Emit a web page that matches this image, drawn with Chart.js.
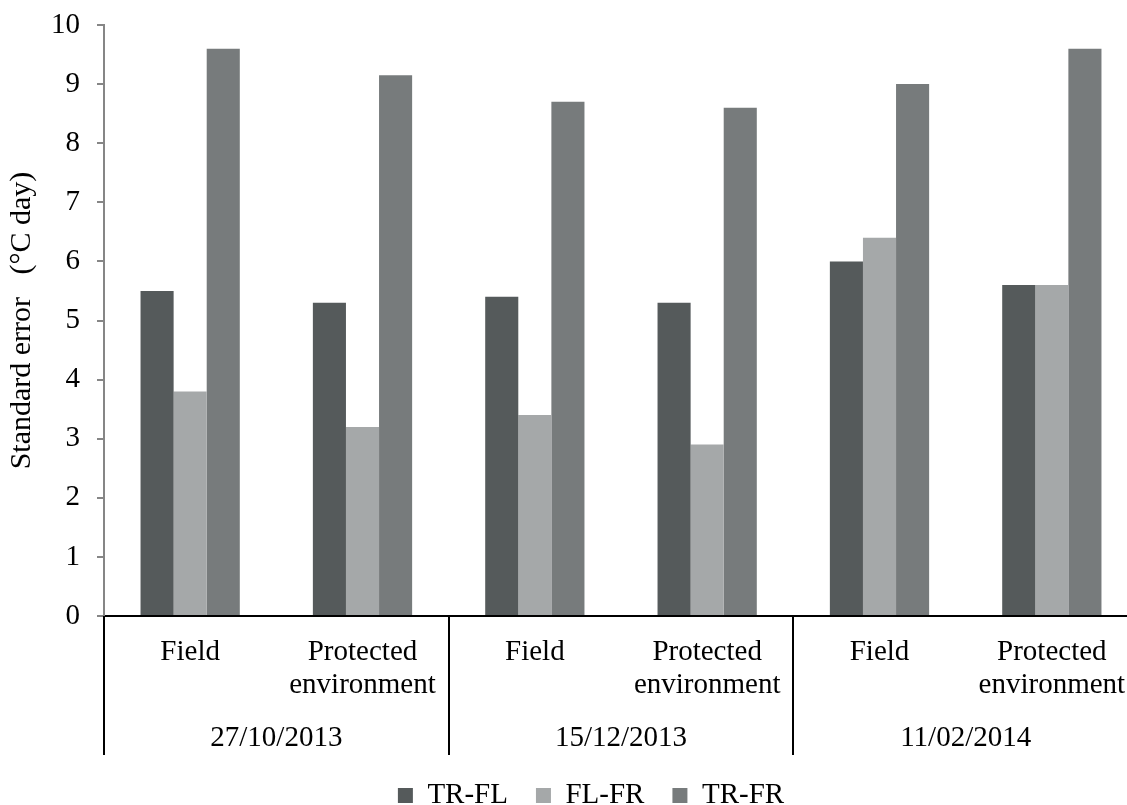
<!DOCTYPE html>
<html>
<head>
<meta charset="utf-8">
<script src="https://cdn.jsdelivr.net/npm/chart.js@4.4.1/dist/chart.umd.min.js"></script>
<style>
  html, body { margin:0; padding:0; background:#fff; overflow:hidden; }
  #wrap { position:absolute; left:0; top:0; width:1138px; height:816px; }
</style>
</head>
<body>
<div id="wrap"><canvas id="chart" width="1138" height="816"></canvas></div>
<script>
// data
var subLabels = [['Field'], ['Protected', 'environment'], ['Field'], ['Protected', 'environment'], ['Field'], ['Protected', 'environment']];
var dates = ['27/10/2013', '15/12/2013', '11/02/2014'];
var trFl = [5.5, 5.3, 5.4, 5.3, 6.0, 5.6];
var flFr = [3.8, 3.2, 3.4, 2.9, 6.4, 5.6];
var trFr = [9.6, 9.15, 8.7, 8.6, 9.0, 9.6];
var yTicks = { min: 0, max: 10, step: 1 };

var serif = 'Liberation Serif, Times New Roman, serif';

// vertical separators between the date groups, below the x axis
var separators = {
  id: 'separators',
  afterLayout: function(chart) {
    // legend sits a little right of centre and low in the original
    chart.legend.left += 22;
    chart.legend.right += 22;
    chart.legend.top += 4;
    chart.legend.bottom += 4;
  },
  afterDraw: function(chart) {
    var x = chart.scales.x, x2 = chart.scales.x2, ca = chart.chartArea, ctx = chart.ctx;
    var step = (x.getPixelForValue(1) - x.getPixelForValue(0));
    ctx.save();
    ctx.strokeStyle = '#000';
    ctx.lineWidth = 2;
    for (var i = 0; i < dates.length; i++) {
      var px = Math.round(x.getPixelForValue(i * 2) - step / 2);
      ctx.beginPath();
      ctx.moveTo(px, ca.bottom);
      ctx.lineTo(px, x2.top + 34);
      ctx.stroke();
    }
    ctx.restore();
  }
};

var ctx = document.getElementById('chart').getContext('2d');
var myChart = new Chart(ctx, {
  type: 'bar',
  data: {
    labels: subLabels,
    datasets: [
      { label: 'TR-FL', data: trFl, backgroundColor: '#555a5b', borderWidth: 0 },
      { label: 'FL-FR', data: flFr, backgroundColor: '#a5a8a9', borderWidth: 0 },
      { label: 'TR-FR', data: trFr, backgroundColor: '#777b7c', borderWidth: 0 }
    ]
  },
  options: {
    responsive: false,
    animation: false,
    layout: { padding: { top: 25, left: 0, right: 0, bottom: 0 } },
    datasets: { bar: { categoryPercentage: 0.576, barPercentage: 1.0 } },
    plugins: {
      legend: {
        position: 'bottom',
        labels: {
          color: '#000',
          font: { family: serif, size: 29 },
          boxWidth: 15,
          boxHeight: 15,
          padding: 28
        }
      },
      tooltip: { enabled: false }
    },
    scales: {
      x: {
        position: 'bottom',
        grid: { display: true, drawOnChartArea: false, drawTicks: false, color: 'rgba(0,0,0,0)' },
        border: { display: true, color: '#000', width: 2 },
        ticks: { color: '#000', font: { family: serif, size: 29, lineHeight: 1.14 }, padding: 20, maxRotation: 0, autoSkip: false },
        afterFit: function(s) { s.height = 105; s.paddingLeft = 0; s.paddingRight = 0; }
      },
      x2: {
        type: 'category',
        position: 'bottom',
        labels: dates,
        offset: true,
        grid: { display: false, drawTicks: false },
        border: { display: false },
        ticks: { color: '#000', font: { family: serif, size: 29 }, padding: 0, maxRotation: 0 },
        afterFit: function(s) { s.height = 28; s.paddingLeft = 0; s.paddingRight = 0; }
      },
      y: {
        min: yTicks.min,
        max: yTicks.max,
        ticks: { stepSize: yTicks.step, color: '#000', font: { family: serif, size: 29 }, padding: 17 },
        grid: { drawOnChartArea: false, drawTicks: true, tickLength: 7, color: '#868686', lineWidth: 2 },
        border: { display: true, color: '#868686', width: 2 },
        title: { display: true, text: 'Standard error   (°C day)', color: '#000', font: { family: serif, size: 30 }, padding: 4 },
        afterFit: function(s) { s.width = 104; s.paddingTop = 0; s.paddingBottom = 0; }
      }
    }
  },
  plugins: [separators]
});
</script>
</body>
</html>
